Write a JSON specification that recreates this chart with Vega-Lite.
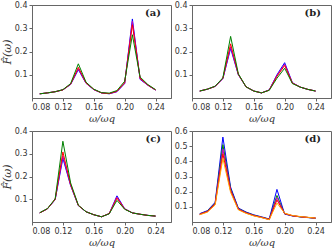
{
  "$schema": "https://vega.github.io/schema/vega-lite/v6.json",
  "padding": {"left": 0, "top": 0, "right": 2, "bottom": 0},
  "background": "white",
  "datasets": {
    "a": [
      {"x": 0.09, "b": 0.018, "m": 0.018, "r": 0.018, "g": 0.018},
      {"x": 0.10, "b": 0.022, "m": 0.022, "r": 0.022, "g": 0.022},
      {"x": 0.11, "b": 0.027, "m": 0.027, "r": 0.027, "g": 0.027},
      {"x": 0.12, "b": 0.035, "m": 0.035, "r": 0.035, "g": 0.036},
      {"x": 0.13, "b": 0.058, "m": 0.059, "r": 0.060, "g": 0.062},
      {"x": 0.14, "b": 0.122, "m": 0.126, "r": 0.132, "g": 0.147},
      {"x": 0.15, "b": 0.063, "m": 0.064, "r": 0.065, "g": 0.068},
      {"x": 0.16, "b": 0.036, "m": 0.036, "r": 0.037, "g": 0.038},
      {"x": 0.17, "b": 0.022, "m": 0.022, "r": 0.022, "g": 0.023},
      {"x": 0.18, "b": 0.018, "m": 0.019, "r": 0.019, "g": 0.021},
      {"x": 0.19, "b": 0.027, "m": 0.028, "r": 0.029, "g": 0.032},
      {"x": 0.20, "b": 0.062, "m": 0.064, "r": 0.066, "g": 0.072},
      {"x": 0.21, "b": 0.340, "m": 0.330, "r": 0.315, "g": 0.272},
      {"x": 0.22, "b": 0.080, "m": 0.082, "r": 0.085, "g": 0.090},
      {"x": 0.23, "b": 0.055, "m": 0.055, "r": 0.056, "g": 0.058},
      {"x": 0.24, "b": 0.034, "m": 0.034, "r": 0.035, "g": 0.036}
    ],
    "b": [
      {"x": 0.09, "b": 0.030, "m": 0.030, "r": 0.030, "g": 0.030},
      {"x": 0.10, "b": 0.038, "m": 0.038, "r": 0.038, "g": 0.038},
      {"x": 0.11, "b": 0.050, "m": 0.050, "r": 0.050, "g": 0.051},
      {"x": 0.12, "b": 0.083, "m": 0.084, "r": 0.085, "g": 0.087},
      {"x": 0.13, "b": 0.213, "m": 0.220, "r": 0.233, "g": 0.265},
      {"x": 0.14, "b": 0.100, "m": 0.101, "r": 0.102, "g": 0.104},
      {"x": 0.15, "b": 0.048, "m": 0.048, "r": 0.048, "g": 0.048},
      {"x": 0.16, "b": 0.030, "m": 0.030, "r": 0.030, "g": 0.030},
      {"x": 0.17, "b": 0.022, "m": 0.022, "r": 0.022, "g": 0.022},
      {"x": 0.18, "b": 0.035, "m": 0.034, "r": 0.034, "g": 0.033},
      {"x": 0.19, "b": 0.100, "m": 0.097, "r": 0.093, "g": 0.085},
      {"x": 0.20, "b": 0.152, "m": 0.146, "r": 0.140, "g": 0.128},
      {"x": 0.21, "b": 0.066, "m": 0.065, "r": 0.064, "g": 0.062},
      {"x": 0.22, "b": 0.047, "m": 0.047, "r": 0.047, "g": 0.047},
      {"x": 0.23, "b": 0.037, "m": 0.037, "r": 0.037, "g": 0.037},
      {"x": 0.24, "b": 0.030, "m": 0.030, "r": 0.030, "g": 0.030}
    ],
    "c": [
      {"x": 0.09, "b": 0.040, "m": 0.040, "r": 0.040, "g": 0.041},
      {"x": 0.10, "b": 0.058, "m": 0.058, "r": 0.058, "g": 0.059},
      {"x": 0.11, "b": 0.098, "m": 0.099, "r": 0.100, "g": 0.102},
      {"x": 0.12, "b": 0.280, "m": 0.290, "r": 0.308, "g": 0.355},
      {"x": 0.13, "b": 0.160, "m": 0.162, "r": 0.165, "g": 0.172},
      {"x": 0.14, "b": 0.072, "m": 0.072, "r": 0.073, "g": 0.074},
      {"x": 0.15, "b": 0.045, "m": 0.045, "r": 0.045, "g": 0.045},
      {"x": 0.16, "b": 0.032, "m": 0.032, "r": 0.032, "g": 0.032},
      {"x": 0.17, "b": 0.023, "m": 0.023, "r": 0.023, "g": 0.023},
      {"x": 0.18, "b": 0.037, "m": 0.037, "r": 0.037, "g": 0.036},
      {"x": 0.19, "b": 0.115, "m": 0.110, "r": 0.105, "g": 0.095},
      {"x": 0.20, "b": 0.058, "m": 0.058, "r": 0.057, "g": 0.056},
      {"x": 0.21, "b": 0.040, "m": 0.040, "r": 0.040, "g": 0.040},
      {"x": 0.22, "b": 0.034, "m": 0.034, "r": 0.034, "g": 0.034},
      {"x": 0.23, "b": 0.029, "m": 0.029, "r": 0.029, "g": 0.029},
      {"x": 0.24, "b": 0.026, "m": 0.026, "r": 0.026, "g": 0.026}
    ],
    "d": [
      {"x": 0.09, "b": 0.055, "g": 0.053, "m": 0.052, "r": 0.050, "o": 0.048},
      {"x": 0.10, "b": 0.075, "g": 0.072, "m": 0.070, "r": 0.068, "o": 0.065},
      {"x": 0.11, "b": 0.130, "g": 0.125, "m": 0.122, "r": 0.118, "o": 0.112},
      {"x": 0.12, "b": 0.560, "g": 0.510, "m": 0.480, "r": 0.450, "o": 0.420},
      {"x": 0.13, "b": 0.230, "g": 0.220, "m": 0.212, "r": 0.205, "o": 0.195},
      {"x": 0.14, "b": 0.092, "g": 0.088, "m": 0.086, "r": 0.083, "o": 0.080},
      {"x": 0.15, "b": 0.066, "g": 0.063, "m": 0.061, "r": 0.059, "o": 0.057},
      {"x": 0.16, "b": 0.047, "g": 0.045, "m": 0.043, "r": 0.042, "o": 0.040},
      {"x": 0.17, "b": 0.034, "g": 0.032, "m": 0.031, "r": 0.030, "o": 0.029},
      {"x": 0.18, "b": 0.020, "g": 0.018, "m": 0.017, "r": 0.016, "o": 0.015},
      {"x": 0.19, "b": 0.215, "g": 0.175, "m": 0.160, "r": 0.145, "o": 0.125},
      {"x": 0.20, "b": 0.052, "g": 0.054, "m": 0.055, "r": 0.056, "o": 0.058},
      {"x": 0.21, "b": 0.040, "g": 0.041, "m": 0.041, "r": 0.042, "o": 0.043},
      {"x": 0.22, "b": 0.034, "g": 0.034, "m": 0.035, "r": 0.035, "o": 0.036},
      {"x": 0.23, "b": 0.029, "g": 0.030, "m": 0.030, "r": 0.030, "o": 0.031},
      {"x": 0.24, "b": 0.025, "g": 0.025, "m": 0.026, "r": 0.026, "o": 0.026}
    ]
  },
  "columns": 2,
  "bounds": "flush",
  "spacing": {"row": 33, "column": 21},
  "concat": [
    {
      "width": 139, "height": 93,
      "layer": [
        {
          "data": {"name": "a"},
          "transform": [{"fold": ["b", "m", "r", "g"], "as": ["s", "y"]}],
          "mark": {"type": "line", "strokeWidth": 1},
          "encoding": {
            "x": {"field": "x", "type": "quantitative", "scale": {"domain": [0.08, 0.25]}, "axis": {"values": [0.08, 0.12, 0.16, 0.2, 0.24], "tickCount": 20, "format": ".2f", "title": "ω/ωq"}},
            "y": {"field": "y", "type": "quantitative", "scale": {"domain": [0, 0.4]}, "axis": {"values": [0.1, 0.2, 0.3, 0.4], "tickCount": 20, "format": ".1f", "title": "F̂(ω)"}},
            "color": {"field": "s", "type": "nominal", "scale": {"domain": ["b", "g", "m", "r", "o"], "range": ["#0000ff", "#008000", "#bf00bf", "#ff0000", "#ffa500"]}, "legend": null}
          }
        },
        {
          "data": {"values": [{}]},
          "mark": {"type": "text", "font": "DejaVu Serif", "fontWeight": "bold", "fontSize": 10, "align": "right", "baseline": "top", "color": "#222"},
          "encoding": {"x": {"datum": 0.247}, "y": {"datum": 0.385}, "text": {"value": "(a)"}}
        }
      ]
    },
    {
      "width": 139, "height": 93,
      "layer": [
        {
          "data": {"name": "b"},
          "transform": [{"fold": ["b", "m", "r", "g"], "as": ["s", "y"]}],
          "mark": {"type": "line", "strokeWidth": 1},
          "encoding": {
            "x": {"field": "x", "type": "quantitative", "scale": {"domain": [0.08, 0.25]}, "axis": {"values": [0.08, 0.12, 0.16, 0.2, 0.24], "tickCount": 20, "format": ".2f", "title": "ω/ωq"}},
            "y": {"field": "y", "type": "quantitative", "scale": {"domain": [0, 0.4]}, "axis": {"values": [0.1, 0.2, 0.3, 0.4], "tickCount": 20, "format": ".1f", "title": null}},
            "color": {"field": "s", "type": "nominal", "scale": {"domain": ["b", "g", "m", "r", "o"], "range": ["#0000ff", "#008000", "#bf00bf", "#ff0000", "#ffa500"]}, "legend": null}
          }
        },
        {
          "data": {"values": [{}]},
          "mark": {"type": "text", "font": "DejaVu Serif", "fontWeight": "bold", "fontSize": 10, "align": "right", "baseline": "top", "color": "#222"},
          "encoding": {"x": {"datum": 0.247}, "y": {"datum": 0.385}, "text": {"value": "(b)"}}
        }
      ]
    },
    {
      "width": 139, "height": 91,
      "layer": [
        {
          "data": {"name": "c"},
          "transform": [{"fold": ["b", "m", "r", "g"], "as": ["s", "y"]}],
          "mark": {"type": "line", "strokeWidth": 1},
          "encoding": {
            "x": {"field": "x", "type": "quantitative", "scale": {"domain": [0.08, 0.25]}, "axis": {"values": [0.08, 0.12, 0.16, 0.2, 0.24], "tickCount": 20, "format": ".2f", "title": "ω/ωq"}},
            "y": {"field": "y", "type": "quantitative", "scale": {"domain": [0, 0.4]}, "axis": {"values": [0.1, 0.2, 0.3, 0.4], "tickCount": 20, "format": ".1f", "title": "F̂(ω)"}},
            "color": {"field": "s", "type": "nominal", "scale": {"domain": ["b", "g", "m", "r", "o"], "range": ["#0000ff", "#008000", "#bf00bf", "#ff0000", "#ffa500"]}, "legend": null}
          }
        },
        {
          "data": {"values": [{}]},
          "mark": {"type": "text", "font": "DejaVu Serif", "fontWeight": "bold", "fontSize": 10, "align": "right", "baseline": "top", "color": "#222"},
          "encoding": {"x": {"datum": 0.247}, "y": {"datum": 0.385}, "text": {"value": "(c)"}}
        }
      ]
    },
    {
      "width": 139, "height": 91,
      "layer": [
        {
          "data": {"name": "d"},
          "transform": [{"fold": ["b", "g", "m", "r", "o"], "as": ["s", "y"]}],
          "mark": {"type": "line", "strokeWidth": 1},
          "encoding": {
            "x": {"field": "x", "type": "quantitative", "scale": {"domain": [0.08, 0.25]}, "axis": {"values": [0.08, 0.12, 0.16, 0.2, 0.24], "tickCount": 20, "format": ".2f", "title": "ω/ωq"}},
            "y": {"field": "y", "type": "quantitative", "scale": {"domain": [0, 0.6]}, "axis": {"values": [0.1, 0.2, 0.3, 0.4, 0.5, 0.6], "tickCount": 20, "format": ".1f", "title": null}},
            "color": {"field": "s", "type": "nominal", "scale": {"domain": ["b", "g", "m", "r", "o"], "range": ["#0000ff", "#008000", "#bf00bf", "#ff0000", "#ffa500"]}, "legend": null}
          }
        },
        {
          "data": {"values": [{}]},
          "mark": {"type": "text", "font": "DejaVu Serif", "fontWeight": "bold", "fontSize": 10, "align": "right", "baseline": "top", "color": "#222"},
          "encoding": {"x": {"datum": 0.247}, "y": {"datum": 0.58}, "text": {"value": "(d)"}}
        }
      ]
    }
  ],
  "resolve": {"scale": {"color": "shared"}},
  "config": {
    "view": {"stroke": "#666", "strokeWidth": 1},
    "axis": {
      "grid": false,
      "labelOverlap": false,
      "labelFont": "DejaVu Sans",
      "labelFontSize": 8,
      "labelColor": "#333",
      "labelPadding": 2,
      "tickSize": 3,
      "tickColor": "#666",
      "domainColor": "#666",
      "titleFont": "DejaVu Serif",
      "titleFontStyle": "italic",
      "titleFontWeight": "normal",
      "titleFontSize": 11,
      "titleColor": "#333",
      "titlePadding": 2
    },
    "axisX": {"titlePadding": 2, "titleFontSize": 10}
  }
}
